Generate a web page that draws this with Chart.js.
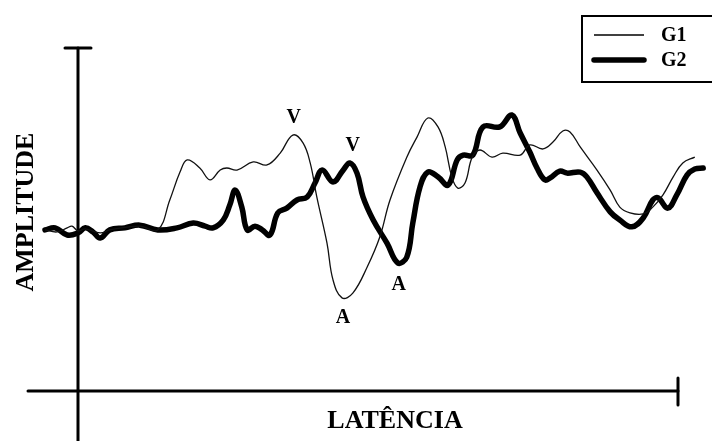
<!DOCTYPE html>
<html>
<head>
<meta charset="utf-8">
<script src="https://cdn.jsdelivr.net/npm/chart.js@4.4.1/dist/chart.umd.min.js"></script>
<style>
  html, body { margin: 0; padding: 0; background: #fff; }
  #wrap { width: 712px; height: 441px; position: relative; }
</style>
</head>
<body>
<div id="wrap"><canvas id="c" width="712" height="441"></canvas></div>
<script>
// ---- data (latency in arbitrary units, amplitude in arbitrary units) ----
const seriesNames = ['G1', 'G2'];
const xAxisTitle = 'LATÊNCIA';
const yAxisTitle = 'AMPLITUDE';

const g1Latency = [-0.55,-0.35,-0.18,-0.10,0,0.12,0.37,0.53,1.03,1.33,1.53,1.70,1.82,2.03,2.20,2.37,2.48,2.65,2.92,3.15,3.37,3.58,3.75,3.87,3.98,4.15,4.25,4.40,4.58,4.82,5.03,5.20,5.48,5.65,5.83,6.00,6.12,6.23,6.33,6.45,6.57,6.70,6.90,7.08,7.37,7.53,7.75,7.92,8.08,8.20,8.37,8.65,8.87,9.03,9.20,9.42,9.58,9.75,9.92,10.08,10.28];
const g1Amplitude = [4.65,4.59,4.71,4.76,4.62,4.68,4.56,4.65,4.76,4.65,5.53,6.35,6.71,6.47,6.12,6.41,6.47,6.41,6.65,6.56,6.91,7.44,7.21,6.62,5.62,4.26,3.18,2.65,2.79,3.56,4.44,5.53,6.79,7.38,7.94,7.68,7.09,6.21,5.88,6.03,6.79,7.00,6.79,6.91,6.85,7.15,7.03,7.24,7.56,7.53,7.09,6.41,5.82,5.32,5.15,5.12,5.32,5.68,6.21,6.62,6.79];

const g2Latency = [-0.55,-0.38,-0.18,0,0.12,0.25,0.37,0.53,0.78,1.03,1.33,1.65,1.92,2.12,2.25,2.42,2.53,2.62,2.73,2.82,2.95,3.07,3.20,3.33,3.48,3.65,3.82,3.95,4.07,4.25,4.42,4.53,4.65,4.75,4.92,5.15,5.33,5.48,5.58,5.70,5.83,6.00,6.17,6.32,6.42,6.58,6.75,7.03,7.23,7.37,7.53,7.65,7.78,7.87,8.03,8.15,8.37,8.48,8.65,8.87,9.03,9.23,9.42,9.58,9.67,9.83,9.98,10.15,10.28,10.42];
const g2Amplitude = [4.65,4.71,4.50,4.56,4.71,4.59,4.41,4.65,4.71,4.79,4.65,4.71,4.85,4.76,4.71,4.94,5.38,5.82,5.32,4.65,4.76,4.65,4.50,5.15,5.29,5.53,5.62,6.03,6.41,6.06,6.41,6.62,6.32,5.62,4.94,4.26,3.68,3.85,4.85,5.91,6.35,6.21,5.97,6.71,6.85,6.85,7.68,7.68,8.03,7.50,6.94,6.47,6.12,6.18,6.38,6.32,6.35,6.21,5.74,5.18,4.94,4.74,5.00,5.53,5.59,5.29,5.68,6.26,6.44,6.47];

// peak / trough labels: which series and the latency of the marked point
const peakLabels  = ['V', 'A', 'V', 'A'];
const peakSeries  = [0, 0, 1, 1];
const peakLatency = [3.58, 4.40, 4.53, 5.33];

// ---- axis extents (data units) ----
const X_MIN = -0.8333, X_MAX = 10.5667, X_AXIS_END = 10;
const Y_MIN = -1.5588, Y_MAX = 10, X_AXIS_AT = -0.09;

const toPoints = (xs, ys) => xs.map((x, i) => ({ x: x, y: ys[i] }));

const serif = '"Liberation Serif", "Times New Roman", serif';

const decorPlugin = {
  id: 'decor',
  beforeDatasetsDraw(chart) {
    const ctx = chart.ctx, xs = chart.scales.x, ys = chart.scales.y;
    ctx.save();
    ctx.strokeStyle = '#000';
    ctx.lineWidth = 3;
    ctx.lineCap = 'round';
    const x0 = xs.getPixelForValue(0);
    const yTop = ys.getPixelForValue(Y_MAX);
    const yBot = ys.getPixelForValue(Y_MIN);
    const yAx = ys.getPixelForValue(X_AXIS_AT);
    const xL = xs.getPixelForValue(X_MIN);
    const xR = xs.getPixelForValue(X_AXIS_END);
    // vertical axis
    ctx.beginPath(); ctx.moveTo(x0, yTop); ctx.lineTo(x0, yBot + 5); ctx.stroke();
    ctx.beginPath(); ctx.moveTo(x0 - 13, yTop); ctx.lineTo(x0 + 13, yTop); ctx.stroke();
    // horizontal axis
    ctx.beginPath(); ctx.moveTo(xL, yAx); ctx.lineTo(xR, yAx); ctx.stroke();
    ctx.beginPath(); ctx.moveTo(xR, yAx - 13); ctx.lineTo(xR, yAx + 14); ctx.stroke();
    ctx.restore();
  },
  afterDatasetsDraw(chart) {
    const ctx = chart.ctx;
    ctx.save();
    ctx.fillStyle = '#000';
    // axis titles
    ctx.font = 'bold 26px ' + serif;
    ctx.textAlign = 'center';
    ctx.textBaseline = 'alphabetic';
    ctx.fillText(xAxisTitle, 395, 428);
    ctx.save();
    ctx.translate(33, 212);
    ctx.rotate(-Math.PI / 2);
    ctx.fillText(yAxisTitle, 0, 0);
    ctx.restore();

    // peak labels
    ctx.font = 'bold 20px ' + serif;
    ctx.textBaseline = 'middle';
    peakLabels.forEach((lab, i) => {
      const meta = chart.getDatasetMeta(peakSeries[i]);
      const lat = peakSeries[i] === 0 ? g1Latency : g2Latency;
      const idx = lat.indexOf(peakLatency[i]);
      const el = meta.data[idx];
      const dy = lab === 'V' ? -17 : (peakSeries[i] === 1 ? 22 : 20);
      const dx = (peakSeries[i] === 1 && lab === 'V') ? 3 : 1;
      ctx.fillText(lab, el.x + dx, el.y + dy);
    });

    // legend box
    ctx.lineWidth = 2;
    ctx.strokeStyle = '#000';
    ctx.strokeRect(582, 16, 140, 66);
    ctx.font = 'bold 20px ' + serif;
    ctx.textAlign = 'left';
    ctx.textBaseline = 'middle';
    const rows = [35, 60];
    chart.data.datasets.forEach((ds, i) => {
      ctx.beginPath();
      ctx.lineWidth = ds.borderWidth;
      ctx.lineCap = i === 1 ? 'round' : 'butt';
      ctx.moveTo(594, rows[i]);
      ctx.lineTo(644, rows[i]);
      ctx.stroke();
      ctx.fillText(ds.label, 661, rows[i] + 1);
    });
    ctx.restore();
  }
};

new Chart(document.getElementById('c'), {
  type: 'line',
  data: {
    datasets: [
      { label: seriesNames[0], data: toPoints(g1Latency, g1Amplitude), borderColor: '#111', borderWidth: 1.3, pointRadius: 0, tension: 0.4, fill: false },
      { label: seriesNames[1], data: toPoints(g2Latency, g2Amplitude), borderColor: '#000', borderWidth: 5.5, pointRadius: 0, tension: 0.4, fill: false, borderCapStyle: 'round', borderJoinStyle: 'round' }
    ]
  },
  options: {
    responsive: false,
    devicePixelRatio: 1,
    animation: false,
    layout: { padding: { left: 28, top: 48, right: 0, bottom: 0 } },
    plugins: { legend: { display: false }, tooltip: { enabled: false } },
    scales: {
      x: { type: 'linear', min: X_MIN, max: X_MAX, display: false },
      y: { type: 'linear', min: Y_MIN, max: Y_MAX, display: false }
    }
  },
  plugins: [decorPlugin]
});
</script>
</body>
</html>
